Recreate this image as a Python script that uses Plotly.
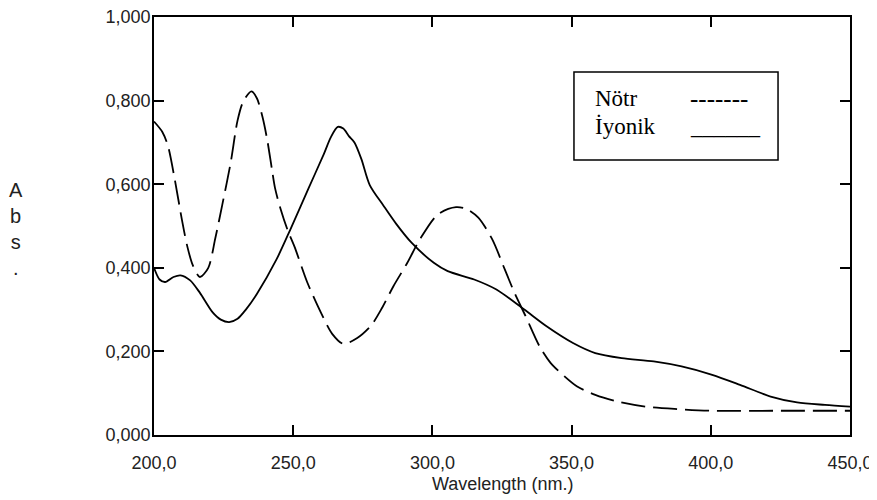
import plotly.graph_objects as go

# Nötr (dashed) spectrum
wl_notr = [200, 203, 205, 207.5, 210, 212, 214, 216.5, 219.5, 222, 224.5, 227.5,
           230, 232, 235, 237, 239, 240.7, 242.4, 243.5, 245.5, 248, 250.5, 255,
           260, 264, 268, 273, 278, 282, 286, 291, 295.5, 302, 308.5, 312.5,
           316.5, 321.5, 326, 329.5, 333.5, 338.5, 342.5, 347.5, 352, 358.5,
           366.5, 376.5, 388, 400, 425, 450]
abs_notr = [0.750, 0.725, 0.692, 0.610, 0.516, 0.450, 0.405, 0.378, 0.400, 0.470,
            0.550, 0.650, 0.752, 0.797, 0.822, 0.805, 0.760, 0.705, 0.634, 0.590,
            0.540, 0.490, 0.450, 0.366, 0.292, 0.242, 0.218, 0.232, 0.262, 0.305,
            0.356, 0.412, 0.468, 0.528, 0.545, 0.540, 0.520, 0.468, 0.396, 0.340,
            0.284, 0.212, 0.172, 0.140, 0.116, 0.096, 0.080, 0.068, 0.062, 0.058,
            0.058, 0.058]

# İyonik (solid) spectrum
wl_iyonik = [200, 202, 204, 207, 209.5, 213, 216.5, 221, 224, 227, 230, 233, 237,
             244, 249, 255.5, 261, 263.5, 266, 268, 270, 272, 274.5, 277.5, 282.5,
             287, 292.5, 300.5, 305.5, 315, 323, 333, 341, 350.5, 358.5, 368,
             379.5, 389.5, 400.5, 410.5, 421.5, 431, 441, 450]
abs_iyonik = [0.400, 0.372, 0.366, 0.378, 0.382, 0.370, 0.340, 0.294, 0.276, 0.270,
              0.278, 0.300, 0.338, 0.420, 0.492, 0.590, 0.672, 0.712, 0.737, 0.733,
              0.715, 0.700, 0.660, 0.598, 0.548, 0.505, 0.460, 0.412, 0.392, 0.372,
              0.348, 0.300, 0.260, 0.220, 0.196, 0.184, 0.176, 0.164, 0.144, 0.120,
              0.092, 0.078, 0.072, 0.068]

x_ticks = [200, 250, 300, 350, 400, 450]
y_ticks = [0, 0.2, 0.4, 0.6, 0.8, 1.0]

tick_font = dict(family="Liberation Sans, Arial", size=18, color="#222")
serif = dict(family="Liberation Serif, Times New Roman", size=23, color="#000")

fig = go.Figure()
fig.add_trace(go.Scatter(x=wl_notr, y=abs_notr, mode="lines", name="Nötr",
                         line=dict(color="#000", width=1.8, dash="24px,8px",
                                   shape="spline", smoothing=0.8)))
fig.add_trace(go.Scatter(x=wl_iyonik, y=abs_iyonik, mode="lines", name="İyonik",
                         line=dict(color="#000", width=1.8,
                                   shape="spline", smoothing=0.8)))

axis_common = dict(showline=True, linecolor="#000", linewidth=1.6, mirror="ticks",
                   ticks="inside", ticklen=10, tickwidth=1.5, tickcolor="#000",
                   showgrid=False, zeroline=False, tickfont=tick_font,
                   automargin=False, ticklabeloverflow="allow")
fig.update_xaxes(range=[200, 450], tickvals=x_ticks, tickformat=".1f",
                 ticklabelstandoff=11, **axis_common)
fig.update_yaxes(range=[0, 1.0], tickvals=y_ticks, tickformat=".3f",
                 ticklabelstandoff=-2, **axis_common)

# legend box drawn as in the original
fig.add_shape(type="rect", xref="paper", yref="paper",
              x0=0.6034, x1=0.8966, y0=0.6579, y1=0.8684,
              line=dict(color="#000", width=1.5), fillcolor="white")
fig.add_annotation(text="Nötr", xref="paper", yref="paper", x=0.6307, y=0.806,
                   xanchor="left", yanchor="middle", showarrow=False, font=serif)
fig.add_annotation(text="İyonik", xref="paper", yref="paper", x=0.6307, y=0.737,
                   xanchor="left", yanchor="middle", showarrow=False, font=serif)
fig.add_annotation(text="-------", xref="paper", yref="paper", x=0.767, y=0.806,
                   xanchor="left", yanchor="middle", showarrow=False,
                   font=dict(serif, size=25))
fig.add_annotation(text="______", xref="paper", yref="paper", x=0.767, y=0.737,
                   xanchor="left", yanchor="middle", showarrow=False, font=serif)

# axis titles
fig.add_annotation(text="A<br>b<br>s<br>.", xref="paper", yref="paper",
                   x=-0.198, y=0.493, xanchor="center", yanchor="middle",
                   showarrow=False, font=dict(family="Liberation Sans, Arial",
                                              size=20, color="#222"))
fig.add_annotation(text="Wavelength (nm.)", xref="paper", yref="paper",
                   x=0.5, y=-0.118, xanchor="center", yanchor="middle",
                   showarrow=False, font=tick_font)

# the page body has an 8px margin, so the figure is a bit smaller than the window
fig.update_layout(width=869, height=492, showlegend=False,
                  margin=dict(l=146, r=27, t=9, b=65),
                  plot_bgcolor="white", paper_bgcolor="white",
                  separators=",.")

fig.write_html("out.html")
